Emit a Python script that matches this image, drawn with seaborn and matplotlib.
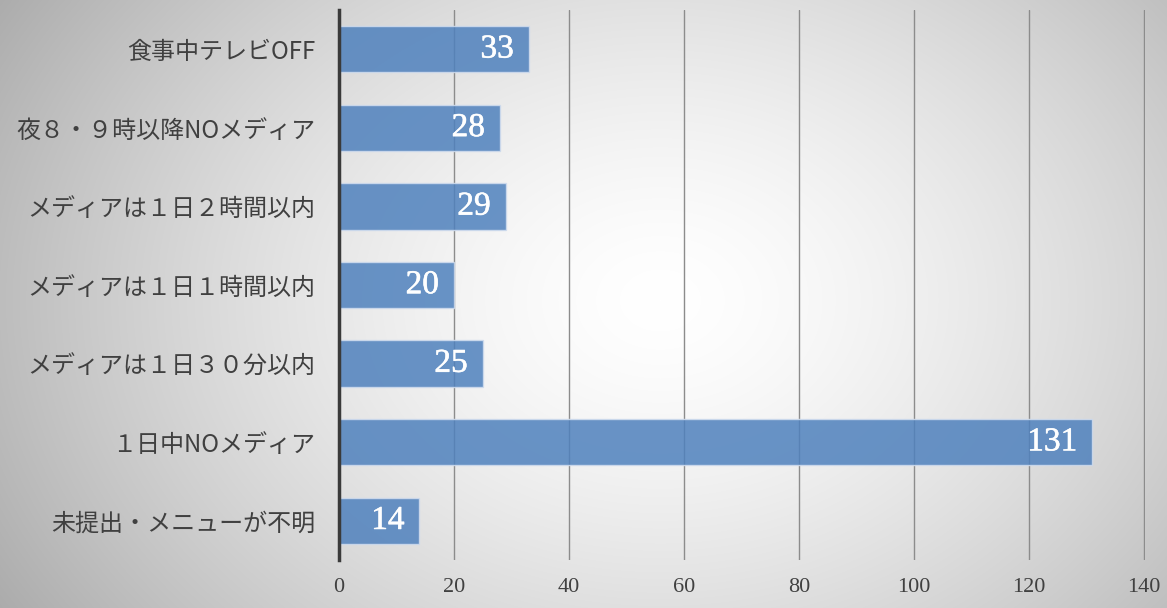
import numpy as np
import pandas as pd
import matplotlib
matplotlib.use("Agg")
import matplotlib.pyplot as plt
import matplotlib.patheffects as pe
import seaborn as sns

categories = ["食事中テレビOFF", "夜８・９時以降NOメディア", "メディアは１日２時間以内",
              "メディアは１日１時間以内", "メディアは１日３０分以内", "１日中NOメディア",
              "未提出・メニューが不明"]
values = [33, 28, 29, 20, 25, 131, 14]
xticks = [0, 20, 40, 60, 80, 100, 120, 140]

df = pd.DataFrame({"cat": categories, "val": values})

sns.set_theme(style="white")
plt.rcParams['font.family'] = ['Noto Sans CJK JP', 'DejaVu Sans']

W, H = 1167, 608
fig = plt.figure(figsize=(W / 100, H / 100), dpi=100)

# radial gradient background
bg = fig.add_axes([0, 0, 1, 1], zorder=-10)
yy, xx = np.mgrid[0:H, 0:W]
r = np.sqrt(((xx - 660) / 680.0) ** 2 + ((yy - 300) / 520.0) ** 2)
g = 1.0 - 0.27 * np.clip(r, 0, 1.2) ** 1.5
g = np.clip(g, 0, 1)
bg.imshow(np.dstack([g, g, g]), aspect='auto', extent=[0, 1, 0, 1], origin='upper')
bg.axis('off')

ax = fig.add_axes([339 / W, 48 / H, 806 / W, 550 / H])
ax.set_facecolor('none')

sns.barplot(data=df, y="cat", x="val", orient="h", ax=ax, color="#4f81bd",
            saturation=1, alpha=0.85, width=0.59, edgecolor="#d0dcee", linewidth=1,
            zorder=3)

ax.set_xlim(0, 140.2)
ax.set_ylim(6.5, -0.5)
ax.set_xticks(xticks)
ax.set_xticklabels([str(t) for t in xticks], family='Liberation Serif', fontsize=16,
                   color='#404040')
ax.set_xlabel("")
ax.set_ylabel("")
for lab in ax.get_yticklabels():
    lab.set_fontsize(17.3)
    lab.set_color('#404040')

ax.tick_params(axis='y', length=0, pad=17)
ax.tick_params(axis='x', length=0, pad=13)

ax.grid(axis='x', color='#8c8c8c', linewidth=1)
ax.grid(axis='y', visible=False)
ax.set_axisbelow(True)

for s in ['top', 'right', 'bottom']:
    ax.spines[s].set_visible(False)
ax.spines['left'].set_color('#3a3a3a')
ax.spines['left'].set_linewidth(2.5)
ax.spines['left'].set_zorder(5)

for i, v in enumerate(values):
    ax.annotate(str(v), xy=(v, i), xytext=(-15, 0), textcoords='offset pixels',
                ha='right', va='center', color='white', fontsize=24,
                fontweight='normal', family='Liberation Serif', zorder=6,
                path_effects=[pe.withStroke(linewidth=0.4, foreground='white')])

fig.savefig("out.png", dpi=100)
